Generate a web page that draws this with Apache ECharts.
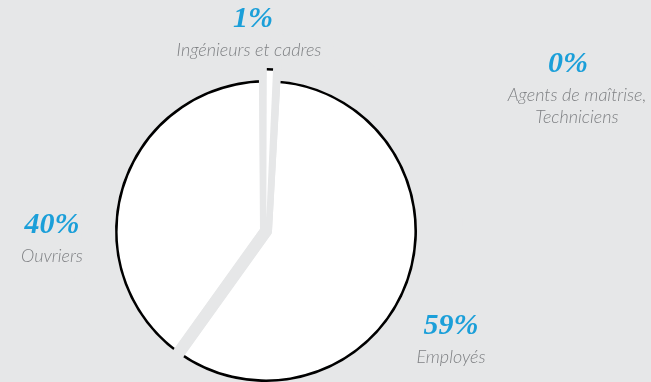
<!DOCTYPE html>
<html>
<head>
<meta charset="utf-8">
<script src="https://cdn.jsdelivr.net/npm/echarts@6/dist/echarts.min.js"></script>
<style>
  html, body { margin: 0; padding: 0; background: #e6e7e8; }
  #chart { width: 651px; height: 382px; }
</style>
</head>
<body>
<div id="chart"></div>
<script>
// ---- data ----
const categories = ['Ingénieurs et cadres', 'Agents de maîtrise,\nTechniciens', 'Employés', 'Ouvriers'];
const values = [1, 0, 59, 40];
const explodedCategory = 'Ingénieurs et cadres';

// ---- style / layout ----
const BG = '#e6e7e8';
const BLUE = '#1b9fd9';
const GREY_TEXT = '#7f8184';
const CENTER = [266, 231];
const R = 151;
const RING = 2.6;
const GAP = 12;
// label block anchors (top-centre) and horizontal shift of the percentage, in category order
const labelAnchors = [[249, -1], [577, 44], [451, 306], [52, 205]];
const percentShift = [4, -9, 0, 0];

function makeRich(shift) {
  return {
    p: { fontFamily: 'Liberation Serif', fontStyle: 'italic', fontWeight: 'bold', fontSize: 30, color: BLUE, lineHeight: 40, align: 'center',
         padding: shift >= 0 ? [0, 0, 0, 2 * shift] : [0, -2 * shift, 0, 0] },
    n: { fontFamily: 'Lato', fontStyle: 'italic', fontWeight: 300, fontSize: 18, color: GREY_TEXT, lineHeight: 22, align: 'center' }
  };
}

const data = categories.map((c, i) => ({ name: c, value: values[i], selected: c === explodedCategory }));
const labelData = categories.map((c, i) => ({ name: c, value: values[i], label: { rich: makeRich(percentShift[i]) } }));

const common = {
  type: 'pie',
  center: CENTER,
  startAngle: 90.4,
  clockwise: true,
  selectedMode: 'single',
  selectedOffset: 12,
  avoidLabelOverlap: false,
  silent: true,
  animation: false,
  emphasis: { disabled: true },
  label: { show: false },
  labelLine: { show: false },
  data: data
};

const chart = echarts.init(document.getElementById('chart'), null, { renderer: 'canvas' });
chart.setOption({
  backgroundColor: BG,
  animation: false,
  series: [
    // white body
    Object.assign({}, common, {
      z: 1,
      radius: [0, R],
      itemStyle: { color: '#ffffff', borderWidth: 0 },
      select: { itemStyle: { color: 'rgba(0,0,0,0)', borderWidth: 0 } }
    }),
    // black outer ring
    Object.assign({}, common, {
      z: 2,
      radius: [R - RING, R],
      itemStyle: { color: '#000000', borderWidth: 0 },
      select: { itemStyle: { color: 'rgba(0,0,0,0)', borderWidth: 0 } }
    }),
    // grey gaps
    Object.assign({}, common, {
      z: 3,
      radius: [0, R + 40],
      itemStyle: { color: 'rgba(0,0,0,0)', borderColor: BG, borderWidth: GAP, borderJoin: 'round' },
      select: { itemStyle: { color: 'rgba(0,0,0,0)', borderColor: BG, borderWidth: GAP, borderJoin: 'round' } }
    }),
    // exploded sliver
    Object.assign({}, common, {
      z: 4,
      radius: [0, R],
      padAngle: 1.2,
      itemStyle: { color: 'rgba(0,0,0,0)', borderWidth: 0 },
      select: { itemStyle: { color: '#ffffff', borderWidth: 0 } }
    }),
    // black cap of the sliver
    Object.assign({}, common, {
      z: 5,
      radius: [R - RING, R],
      padAngle: 1.2,
      itemStyle: { color: 'rgba(0,0,0,0)', borderWidth: 0 },
      select: { itemStyle: { color: '#000000', borderWidth: 0 } }
    }),
    // labels
    Object.assign({}, common, {
      z: 6,
      radius: [0, R],
      selectedMode: false,
      data: labelData,
      itemStyle: { color: 'rgba(0,0,0,0)', borderWidth: 0 },
      label: {
        show: true,
        position: 'outside',
        formatter: function (p) { return '{p|' + p.value + '%}\n{n|' + p.name + '}'; },
        rich: makeRich(0)
      },
      labelLayout: function (params) {
        const a = labelAnchors[params.dataIndex];
        return { x: a[0], y: a[1], align: 'center', verticalAlign: 'top' };
      }
    })
  ]
});
</script>
</body>
</html>
